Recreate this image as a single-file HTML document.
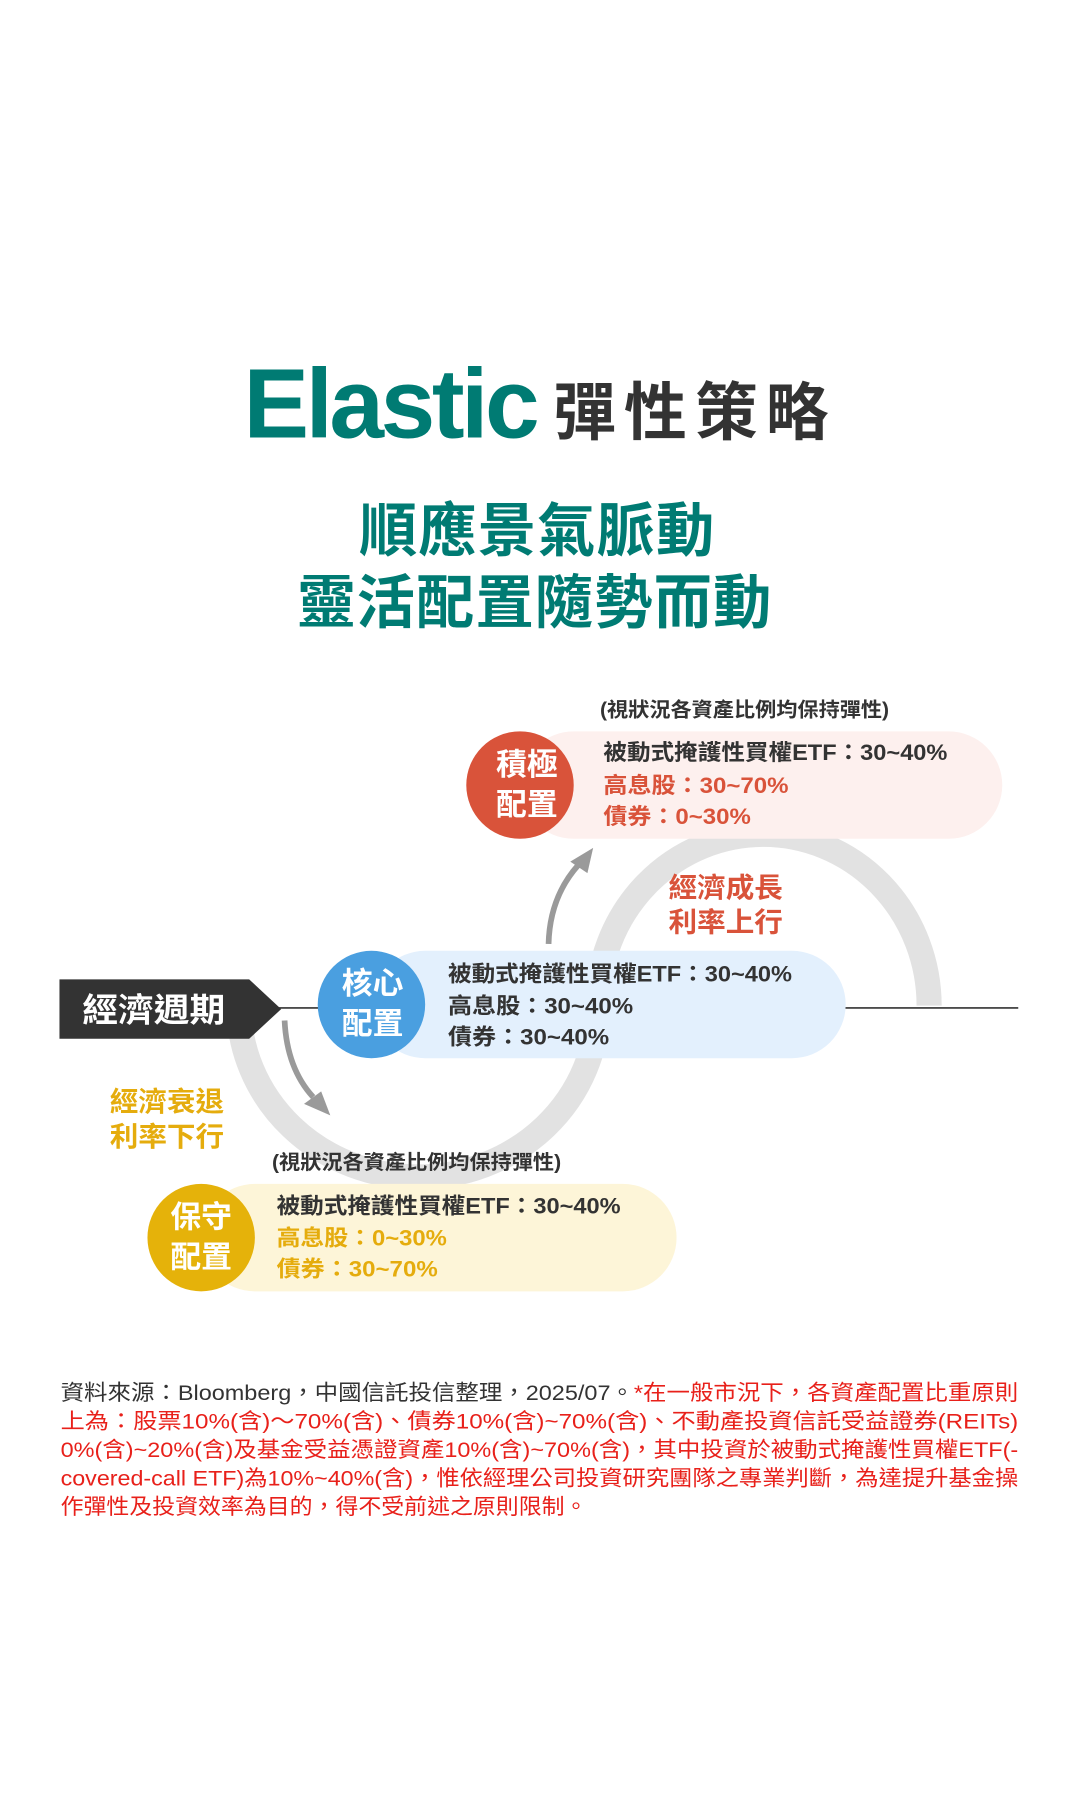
<!DOCTYPE html>
<html><head><meta charset="utf-8"><style>
html,body{margin:0;padding:0;background:#fff;}
svg{display:block;}
text{font-family:"Liberation Sans","Noto Sans CJK TC",sans-serif;}
</style></head><body>
<svg width="1080" height="1793" viewBox="0 0 945 1569" xmlns="http://www.w3.org/2000/svg">
<rect width="945" height="1569" fill="#fff"/>
<!-- Title -->
<text x="213" y="383" font-size="86" font-weight="700" fill="#007b73" letter-spacing="-3">Elastic</text>
<text x="484" y="380" font-size="55" font-weight="700" fill="#333" letter-spacing="7">彈性策略</text>
<text x="470" y="482" font-size="51" font-weight="700" fill="#007b73" text-anchor="middle" letter-spacing="1">順應景氣脈動</text>
<text x="468" y="545" font-size="51" font-weight="700" fill="#007b73" text-anchor="middle" letter-spacing="1">靈活配置隨勢而動</text>

<!-- loops -->
<path d="M813,880 A145,150 0 0 0 523,880 A157,150 0 0 1 209,880" fill="none" stroke="#e2e2e2" stroke-width="22"/>
<!-- line -->
<line x1="240" y1="882" x2="891" y2="882" stroke="#333" stroke-width="1.5"/>

<!-- label -->
<polygon points="52,857 218,857 246,883 218,909 52,909" fill="#333"/>
<text x="72" y="894" font-size="29" font-weight="700" fill="#fff" textLength="125" lengthAdjust="spacingAndGlyphs">經濟週期</text>

<!-- arrows -->
<path d="M480,826 Q481,785 506,757" fill="none" stroke="#9a9a9a" stroke-width="5"/>
<polygon points="519,742 499,754 514,764" fill="#9a9a9a"/>
<path d="M249,893 Q251,935 274,960" fill="none" stroke="#9a9a9a" stroke-width="5"/>
<polygon points="289,976 266,966 281,955" fill="#9a9a9a"/>

<!-- labels -->
<text x="585" y="785" font-size="24" font-weight="700" fill="#d9533a" textLength="100" lengthAdjust="spacingAndGlyphs">經濟成長</text>
<text x="585" y="815" font-size="24" font-weight="700" fill="#d9533a" textLength="100" lengthAdjust="spacingAndGlyphs">利率上行</text>
<text x="96" y="972" font-size="24" font-weight="700" fill="#e5ac0d" textLength="100" lengthAdjust="spacingAndGlyphs">經濟衰退</text>
<text x="96" y="1003" font-size="24" font-weight="700" fill="#e5ac0d" textLength="100" lengthAdjust="spacingAndGlyphs">利率下行</text>

<!-- 積極 -->
<text x="525" y="627" font-size="17.5" font-weight="700" fill="#333" textLength="253" lengthAdjust="spacingAndGlyphs">(視狀況各資產比例均保持彈性)</text>
<rect x="455" y="640" width="422" height="94" rx="47" fill="#fdf0ee"/>
<circle cx="455" cy="687" r="47" fill="#d9533a"/>
<text x="461" y="678" font-size="27" font-weight="700" fill="#fff" text-anchor="middle">積極</text>
<text x="461" y="713" font-size="27" font-weight="700" fill="#fff" text-anchor="middle">配置</text>
<text x="528" y="665" font-size="19.5" font-weight="700" fill="#333" textLength="301" lengthAdjust="spacingAndGlyphs">被動式掩護性買權ETF：30~40%</text>
<text x="528" y="694" font-size="19.5" font-weight="700" fill="#d9533a" textLength="162" lengthAdjust="spacingAndGlyphs">高息股：30~70%</text>
<text x="528" y="721" font-size="19.5" font-weight="700" fill="#d9533a" textLength="129" lengthAdjust="spacingAndGlyphs">債券：0~30%</text>

<!-- 核心 -->
<rect x="325" y="832" width="415" height="94" rx="47" fill="#e3f0fd"/>
<circle cx="325" cy="879" r="47" fill="#4a9fe0"/>
<text x="326" y="870" font-size="27" font-weight="700" fill="#fff" text-anchor="middle">核心</text>
<text x="326" y="905" font-size="27" font-weight="700" fill="#fff" text-anchor="middle">配置</text>
<text x="392" y="859" font-size="19.5" font-weight="700" fill="#333" textLength="301" lengthAdjust="spacingAndGlyphs">被動式掩護性買權ETF：30~40%</text>
<text x="392" y="887" font-size="19.5" font-weight="700" fill="#333" textLength="162" lengthAdjust="spacingAndGlyphs">高息股：30~40%</text>
<text x="392" y="914" font-size="19.5" font-weight="700" fill="#333" textLength="141" lengthAdjust="spacingAndGlyphs">債券：30~40%</text>

<!-- 保守 -->
<text x="238" y="1023" font-size="17.5" font-weight="700" fill="#333" textLength="253" lengthAdjust="spacingAndGlyphs">(視狀況各資產比例均保持彈性)</text>
<rect x="176" y="1036" width="416" height="94" rx="47" fill="#fdf5d8"/>
<circle cx="176" cy="1083" r="47" fill="#e5b20a"/>
<text x="176" y="1074" font-size="27" font-weight="700" fill="#fff" text-anchor="middle">保守</text>
<text x="176" y="1109" font-size="27" font-weight="700" fill="#fff" text-anchor="middle">配置</text>
<text x="242" y="1062" font-size="19.5" font-weight="700" fill="#333" textLength="301" lengthAdjust="spacingAndGlyphs">被動式掩護性買權ETF：30~40%</text>
<text x="242" y="1090" font-size="19.5" font-weight="700" fill="#e5ac0d" textLength="149" lengthAdjust="spacingAndGlyphs">高息股：0~30%</text>
<text x="242" y="1117" font-size="19.5" font-weight="700" fill="#e5ac0d" textLength="141" lengthAdjust="spacingAndGlyphs">債券：30~70%</text>

<!-- footnote -->
<text x="53" y="1225" font-size="19" textLength="838" lengthAdjust="spacingAndGlyphs"><tspan fill="#333">資料來源：Bloomberg，中國信託投信整理，2025/07。</tspan><tspan fill="#e8201a">*在一般市況下，各資產配置比重原則</tspan></text>
<text x="53" y="1250" font-size="19" fill="#e8201a" textLength="838" lengthAdjust="spacingAndGlyphs">上為：股票10%(含)～70%(含)、債券10%(含)~70%(含)、不動產投資信託受益證券(REITs)</text>
<text x="53" y="1275" font-size="19" fill="#e8201a" textLength="838" lengthAdjust="spacingAndGlyphs">0%(含)~20%(含)及基金受益憑證資產10%(含)~70%(含)，其中投資於被動式掩護性買權ETF(-</text>
<text x="53" y="1300" font-size="19" fill="#e8201a" textLength="838" lengthAdjust="spacingAndGlyphs">covered-call ETF)為10%~40%(含)，惟依經理公司投資研究團隊之專業判斷，為達提升基金操</text>
<text x="53" y="1325" font-size="19" fill="#e8201a" textLength="461" lengthAdjust="spacingAndGlyphs">作彈性及投資效率為目的，得不受前述之原則限制。</text>
</svg>
</body></html>
